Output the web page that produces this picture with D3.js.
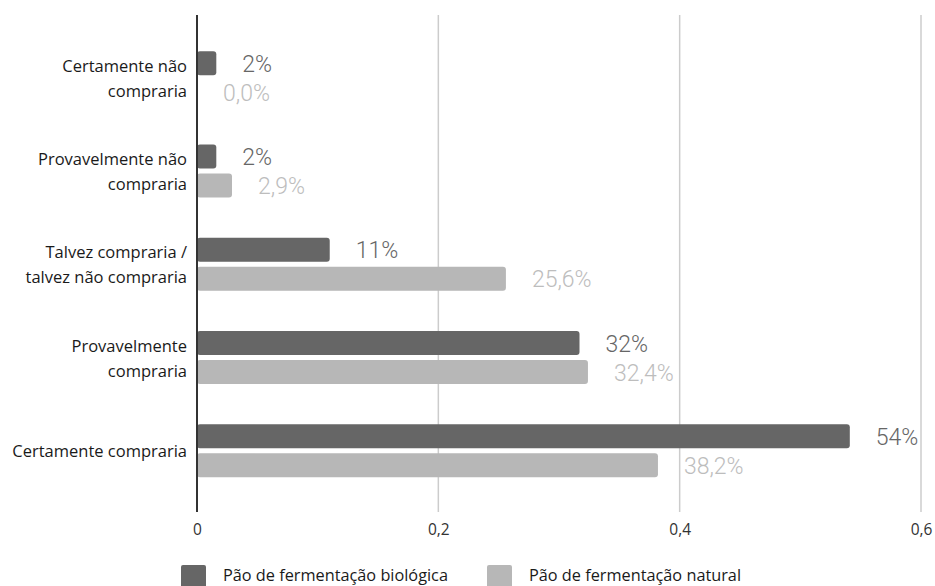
<!DOCTYPE html>
<html><head><meta charset="utf-8">
<script src="https://cdn.jsdelivr.net/npm/d3@7"></script>
<style>
html,body{margin:0;padding:0;background:#fff;}
svg{display:block;}
</style></head>
<body>
<svg id="chart" width="935" height="586"></svg>
<script>
const categories = [
  ["Certamente não", "compraria"],
  ["Provavelmente não", "compraria"],
  ["Talvez compraria /", "talvez não compraria"],
  ["Provavelmente", "compraria"],
  ["Certamente compraria"]
];
const seriesNames = ["Pão de fermentação biológica", "Pão de fermentação natural"];
const biologica = [0.016, 0.016, 0.11, 0.317, 0.541];
const natural = [0.0, 0.029, 0.256, 0.324, 0.382];
const xTicks = [0, 0.2, 0.4, 0.6];
const colors = ["#666666", "#b7b7b7"];
const labelColors = ["#666666", "#bdbdbd"];

const pt = d3.formatLocale({decimal: ",", thousands: ".", grouping: [3], currency: ["R$", ""]});
const fmtBio = pt.format(".0%");
const fmtNat = pt.format(".1%");
const fmtTick = pt.format("");

const svg = d3.select("#chart");
const x = d3.scaleLinear().domain([0, 0.6]).range([197, 921]);
const catKeys = categories.map((c, i) => i);
const y0 = d3.scaleBand().domain(catKeys).range([31, 497.5]).paddingInner(0.432).paddingOuter(0.216);
const y1 = d3.scaleBand().domain([0, 1]).range([0, y0.bandwidth()]).paddingInner(5 / 29);

const plotTop = 15, plotBottom = 512;
const labelFont = "'Open Sans', sans-serif";

// gridlines
svg.append("g").selectAll("line").data(xTicks.filter(d => d > 0)).join("line")
  .attr("x1", d => x(d)).attr("x2", d => x(d))
  .attr("y1", plotTop).attr("y2", plotBottom)
  .attr("stroke", "#cccccc").attr("stroke-width", 1.5);

// tick labels via axis
const xAxis = d3.axisBottom(x).tickValues(xTicks).tickFormat(fmtTick).tickSize(0).tickPadding(0);
const ax = svg.append("g").attr("transform", `translate(0,${plotBottom + 12})`).call(xAxis);
ax.select(".domain").remove();
ax.selectAll("text").attr("font-family", labelFont).attr("font-size", 15.5)
  .attr("fill", "#333").attr("dy", "0.71em");

// bars
const data = categories.map((c, i) => ({i, vals: [biologica[i], natural[i]]}));
const groups = svg.append("g").selectAll("g").data(data).join("g")
  .attr("transform", d => `translate(0,${y0(d.i)})`);

groups.selectAll("rect").data(d => d.vals.map((v, s) => ({v, s}))).join("rect")
  .attr("x", x(0))
  .attr("y", d => y1(d.s))
  .attr("width", d => Math.max(0, x(d.v) - x(0)))
  .attr("height", y1.bandwidth())
  .attr("rx", 3).attr("ry", 3)
  .attr("fill", d => colors[d.s]);

groups.selectAll("text.val").data(d => d.vals.map((v, s) => ({v, s}))).join("text")
  .attr("class", "val")
  .attr("x", d => x(d.v) + 26)
  .attr("y", d => y1(d.s) + y1.bandwidth() / 2 + 1)
  .attr("dominant-baseline", "central")
  .attr("font-family", "Roboto, sans-serif").attr("font-weight", 300).attr("font-size", 23)
  .attr("fill", d => labelColors[d.s])
  .text(d => d.s === 0 ? fmtBio(d.v) : fmtNat(d.v));

// axis line
svg.append("line").attr("x1", x(0)).attr("x2", x(0)).attr("y1", plotTop).attr("y2", plotBottom)
  .attr("stroke", "#333").attr("stroke-width", 2);

// category labels
const catG = svg.append("g");
categories.forEach((lines, i) => {
  const cy = y0(i) + y0.bandwidth() / 2;
  const t = catG.append("text")
    .attr("text-anchor", "end")
    .attr("font-family", labelFont).attr("font-size", 16.5)
    .attr("fill", "#1a1a1a");
  const n = lines.length;
  lines.forEach((ln, k) => {
    t.append("tspan").attr("x", 187)
      .attr("y", cy + (k - (n - 1) / 2) * 25)
      .attr("dominant-baseline", "central")
      .text(ln);
  });
});

// legend
const legendX = [181, 487];
const lg = svg.append("g");
seriesNames.forEach((name, s) => {
  lg.append("rect").attr("x", legendX[s]).attr("y", 565).attr("width", 25).attr("height", 24)
    .attr("rx", 2).attr("fill", colors[s]);
  lg.append("text").attr("x", legendX[s] + 42).attr("y", 575)
    .attr("dominant-baseline", "central")
    .attr("font-family", labelFont).attr("font-size", 16.3)
    .attr("fill", "#1a1a1a").text(name);
});
</script>
</body></html>
